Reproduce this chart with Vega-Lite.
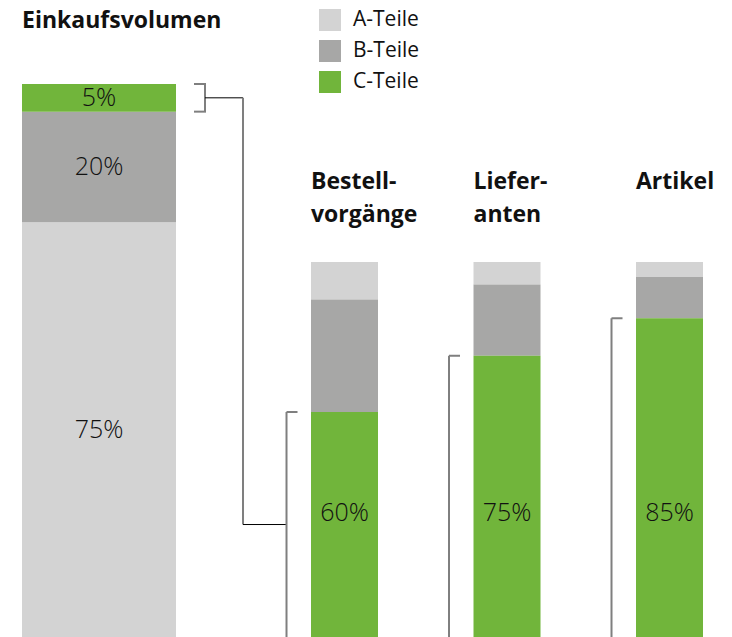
{
  "$schema": "https://vega.github.io/schema/vega-lite/v6.json",
  "width": 732,
  "height": 553,
  "autosize": {"type": "none"},
  "padding": {"left": 0, "top": 84, "right": 0, "bottom": 0},
  "background": "white",
  "config": {"view": {"stroke": null}, "font": "Open Sans", "text": {"color": "#111111"}},
  "datasets": {
    "shares": [
      {"group": "Einkaufsvolumen", "part": "A-Teile", "share": 0.75},
      {"group": "Einkaufsvolumen", "part": "B-Teile", "share": 0.20},
      {"group": "Einkaufsvolumen", "part": "C-Teile", "share": 0.05},
      {"group": "Bestellvorgänge", "part": "A-Teile", "share": 0.10},
      {"group": "Bestellvorgänge", "part": "B-Teile", "share": 0.30},
      {"group": "Bestellvorgänge", "part": "C-Teile", "share": 0.60},
      {"group": "Lieferanten", "part": "A-Teile", "share": 0.06},
      {"group": "Lieferanten", "part": "B-Teile", "share": 0.19},
      {"group": "Lieferanten", "part": "C-Teile", "share": 0.75},
      {"group": "Artikel", "part": "A-Teile", "share": 0.04},
      {"group": "Artikel", "part": "B-Teile", "share": 0.11},
      {"group": "Artikel", "part": "C-Teile", "share": 0.85}
    ],
    "headings": [
      {"group": "Einkaufsvolumen", "heading": "Einkaufsvolumen"},
      {"group": "Bestellvorgänge", "heading": "Bestell-\nvorgänge"},
      {"group": "Lieferanten", "heading": "Liefer-\nanten"},
      {"group": "Artikel", "heading": "Artikel"}
    ]
  },
  "layer": [
    {
      "layer": [
        {
          "data": {"name": "shares"},
          "transform": [{"filter": "datum.group === 'Einkaufsvolumen'"}],
          "mark": {"type": "bar", "width": 154, "xOffset": -83},
          "encoding": {
            "x": {"field": "group", "type": "nominal", "scale": {"type": "point", "domain": ["Einkaufsvolumen", "Bestellvorgänge", "Lieferanten", "Artikel"], "padding": 0.7523, "align": 0.7444, "round": false}, "axis": null},
            "y": {"field": "share", "type": "quantitative", "stack": "zero", "scale": {"domain": [0, 1], "nice": false, "zero": true}, "axis": null},
            "color": {
              "field": "part", "type": "nominal",
              "scale": {"domain": ["A-Teile", "B-Teile", "C-Teile"], "range": ["#D3D3D3", "#A7A7A6", "#71B53B"]},
              "legend": {"orient": "none", "legendX": 319, "legendY": -75, "title": null, "symbolType": "square", "symbolSize": 484, "symbolStrokeWidth": 0, "symbolOpacity": 1, "labelFontSize": 21, "labelFont": "Open Sans", "labelColor": "#111111", "rowPadding": 9, "labelOffset": 12, "padding": 0}
            },
            "order": {"field": "part", "type": "ordinal", "sort": "ascending"}
          }
        },
        {
          "data": {"name": "shares"},
          "transform": [{"filter": "datum.group === 'Einkaufsvolumen'"}],
          "mark": {"type": "text", "xOffset": -83, "fontSize": 25, "fontWeight": 300, "baseline": "middle", "align": "center"},
          "encoding": {
            "x": {"field": "group", "type": "nominal"},
            "y": {"field": "share", "type": "quantitative", "stack": "zero", "bandPosition": 0.5},
            "detail": {"field": "part"},
            "order": {"field": "part", "type": "ordinal", "sort": "ascending"},
            "text": {"field": "share", "type": "quantitative", "format": ".0%"}
          }
        },
        {
          "data": {"name": "shares"},
          "transform": [
            {"filter": "datum.group === 'Einkaufsvolumen'"},
            {"stack": "share", "groupby": ["group"], "sort": [{"field": "part", "order": "ascending"}], "as": ["lo", "hi"]},
            {"filter": "datum.part === 'C-Teile'"}
          ],
          "layer": [
            {
              "mark": {"type": "rule", "xOffset": 23, "color": "#7F7F7F", "strokeWidth": 2},
              "encoding": {
                "x": {"field": "group", "type": "nominal"},
                "y": {"field": "lo", "type": "quantitative"},
                "y2": {"field": "hi"}
              }
            },
            {
              "mark": {"type": "rule", "xOffset": 12, "x2Offset": 24, "color": "#7F7F7F", "strokeWidth": 2},
              "encoding": {
                "x": {"field": "group", "type": "nominal"},
                "x2": {"field": "group"},
                "y": {"field": "hi", "type": "quantitative"}
              }
            },
            {
              "mark": {"type": "rule", "xOffset": 12, "x2Offset": 24, "color": "#7F7F7F", "strokeWidth": 2},
              "encoding": {
                "x": {"field": "group", "type": "nominal"},
                "x2": {"field": "group"},
                "y": {"field": "lo", "type": "quantitative"}
              }
            }
          ]
        },
        {
          "data": {"values": [{}]},
          "layer": [
            {
              "mark": {"type": "rule", "xOffset": 23, "x2Offset": 61, "color": "#000000", "strokeWidth": 1},
              "encoding": {
                "x": {"datum": "Einkaufsvolumen", "type": "nominal"},
                "x2": {"datum": "Einkaufsvolumen"},
                "y": {"datum": 0.975, "type": "quantitative"}
              }
            },
            {
              "mark": {"type": "rule", "xOffset": 61, "color": "#7F7F7F", "strokeWidth": 2},
              "encoding": {
                "x": {"datum": "Einkaufsvolumen", "type": "nominal"},
                "y": {"datum": 0.975, "type": "quantitative"},
                "y2": {"datum": 0.2034}
              }
            },
            {
              "mark": {"type": "rule", "xOffset": 61, "x2Offset": -58, "color": "#000000", "strokeWidth": 1},
              "encoding": {
                "x": {"datum": "Einkaufsvolumen", "type": "nominal"},
                "x2": {"datum": "Bestellvorgänge"},
                "y": {"datum": 0.2034, "type": "quantitative"}
              }
            }
          ]
        },
        {
          "data": {"name": "headings"},
          "transform": [{"filter": "datum.group === 'Einkaufsvolumen'"}],
          "mark": {"type": "text", "xOffset": -160, "dy": -56, "align": "left", "baseline": "alphabetic", "fontSize": 23, "fontWeight": "bold", "lineBreak": "\n", "lineHeight": 33},
          "encoding": {
            "x": {"field": "group", "type": "nominal"},
            "y": {"datum": 1, "type": "quantitative"},
            "text": {"field": "heading"}
          }
        }
      ]
    },
    {
      "layer": [
        {
          "data": {"name": "shares"},
          "transform": [{"filter": "datum.group !== 'Einkaufsvolumen'"}],
          "mark": {"type": "bar", "width": 67},
          "encoding": {
            "x": {"field": "group", "type": "nominal"},
            "y": {"field": "share", "type": "quantitative", "stack": "zero", "scale": {"domain": [0, 1.4747], "nice": false, "zero": true}, "axis": null},
            "color": {"field": "part", "type": "nominal"},
            "order": {"field": "part", "type": "ordinal", "sort": "descending"}
          }
        },
        {
          "data": {"name": "shares"},
          "transform": [{"filter": "datum.group !== 'Einkaufsvolumen' && datum.part === 'C-Teile'"}],
          "mark": {"type": "text", "fontSize": 25, "fontWeight": 300, "baseline": "middle", "align": "center"},
          "encoding": {
            "x": {"field": "group", "type": "nominal"},
            "y": {"datum": 0.33, "type": "quantitative"},
            "text": {"field": "share", "type": "quantitative", "format": ".0%"}
          }
        },
        {
          "data": {"name": "shares"},
          "transform": [
            {"filter": "datum.group !== 'Einkaufsvolumen'"},
            {"stack": "share", "groupby": ["group"], "sort": [{"field": "part", "order": "descending"}], "as": ["lo", "hi"]},
            {"filter": "datum.part === 'C-Teile'"}
          ],
          "layer": [
            {
              "mark": {"type": "rule", "xOffset": -58},
              "encoding": {
                "x": {"field": "group", "type": "nominal"},
                "y": {"field": "lo", "type": "quantitative"},
                "y2": {"field": "hi"},
                "color": {"condition": {"test": "datum.group === 'Lieferanten'", "value": "#000000"}, "value": "#7F7F7F"},
                "strokeWidth": {"condition": {"test": "datum.group === 'Lieferanten'", "value": 1}, "value": 2}
              }
            },
            {
              "mark": {"type": "rule", "xOffset": -58, "x2Offset": -47, "color": "#7F7F7F", "strokeWidth": 2},
              "encoding": {
                "x": {"field": "group", "type": "nominal"},
                "x2": {"field": "group"},
                "y": {"field": "hi", "type": "quantitative"}
              }
            }
          ]
        },
        {
          "data": {"name": "headings"},
          "transform": [{"filter": "datum.group !== 'Einkaufsvolumen'"}],
          "mark": {"type": "text", "xOffset": -33.5, "dy": -73, "align": "left", "baseline": "alphabetic", "fontSize": 23, "fontWeight": "bold", "lineBreak": "\n", "lineHeight": 33},
          "encoding": {
            "x": {"field": "group", "type": "nominal"},
            "y": {"datum": 1, "type": "quantitative"},
            "text": {"field": "heading"}
          }
        }
      ]
    }
  ],
  "resolve": {"scale": {"y": "independent"}}
}
